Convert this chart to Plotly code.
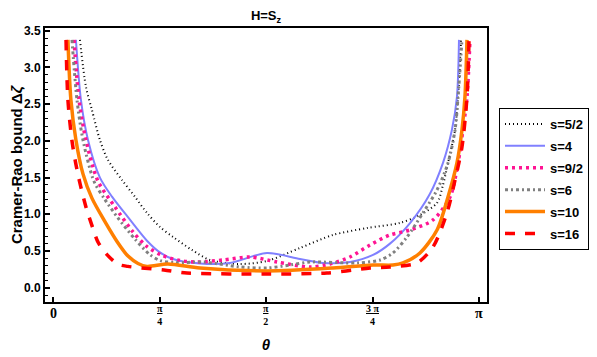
import plotly.graph_objects as go
import math

PI = math.pi

# s = 5/2
x_s52 = [0.197,0.241,0.285,0.344,0.403,0.507,0.603,0.691,0.787,0.883,1.023,1.156,1.377,1.576,1.819,2.063,2.314,2.557,2.704,2.830,2.874,2.911,2.963,2.985,3.007]
y_s52 = [3.375,2.734,2.421,2.012,1.740,1.467,1.236,1.018,0.827,0.691,0.514,0.377,0.323,0.364,0.541,0.718,0.813,0.882,0.990,1.154,1.399,1.699,2.149,2.598,3.375]
# s = 4
x_s4 = [0.167,0.204,0.256,0.344,0.433,0.551,0.691,0.787,0.883,1.082,1.303,1.576,1.819,1.989,2.188,2.358,2.483,2.631,2.778,2.874,2.940,2.977,2.992]
y_s4 = [3.375,2.557,2.012,1.500,1.240,0.960,0.640,0.480,0.390,0.330,0.337,0.473,0.391,0.337,0.350,0.446,0.600,0.880,1.280,1.700,2.150,2.600,3.375]
# s = 9/2
x_s92 = [0.153,0.190,0.241,0.330,0.455,0.588,0.691,0.802,0.934,1.060,1.252,1.451,1.650,1.893,2.041,2.188,2.336,2.483,2.631,2.800,2.926,2.985,3.021,3.051,3.073]
y_s92 = [3.375,2.557,2.012,1.450,1.100,0.760,0.560,0.440,0.370,0.350,0.377,0.418,0.350,0.282,0.323,0.418,0.582,0.718,0.786,0.922,1.236,1.699,2.149,2.598,3.375]
# s = 6
x_s6 = [0.138,0.175,0.219,0.300,0.381,0.477,0.603,0.713,0.787,0.900,1.104,1.377,1.576,1.746,1.893,2.240,2.410,2.505,2.609,2.726,2.830,2.911,2.963,2.985,3.014]
y_s6 = [3.375,2.557,2.012,1.450,1.200,0.950,0.660,0.450,0.370,0.340,0.350,0.282,0.268,0.309,0.350,0.337,0.377,0.473,0.691,1.018,1.331,1.699,2.149,2.598,3.375]
# s = 10
x_s10 = [0.108,0.130,0.167,0.219,0.285,0.381,0.470,0.551,0.625,0.691,0.846,1.082,1.576,2.063,2.358,2.505,2.579,2.704,2.830,2.911,2.977,3.014,3.036,3.051]
y_s10 = [3.375,2.557,2.012,1.550,1.220,0.900,0.630,0.430,0.330,0.290,0.323,0.268,0.228,0.268,0.309,0.309,0.337,0.473,0.786,1.236,1.699,2.149,2.598,3.375]
# s = 16
x_s16 = [0.094,0.108,0.138,0.167,0.197,0.241,0.290,0.330,0.396,0.477,0.550,0.647,0.816,0.986,1.576,2.018,2.336,2.483,2.682,2.800,2.903,2.963,3.014,3.051,3.066]
y_s16 = [3.375,2.557,2.000,1.680,1.420,1.100,0.820,0.620,0.450,0.320,0.290,0.270,0.241,0.200,0.187,0.200,0.268,0.282,0.337,0.554,1.018,1.467,1.917,2.598,3.375]

series_names = ["s=5/2", "s=4", "s=9/2", "s=6", "s=10", "s=16"]
x_tick_vals = [0, PI/4, PI/2, 3*PI/4, PI]
x_tick_text = ["0", "<u>π</u><br>4", "<u>π</u><br>2", "<u>3 π</u><br>4", "π"]
y_tick_vals = [0, 0.5, 1.0, 1.5, 2.0, 2.5, 3.0, 3.5]
y_tick_text = ["<b>%.1f</b>" % v for v in y_tick_vals]

styles = [
    dict(color="black", width=2, dash="1px,3px"),
    dict(color="rgb(128,128,255)", width=2, dash="solid"),
    dict(color="rgb(255,20,147)", width=3.5, dash="3px,4px"),
    dict(color="rgb(128,128,128)", width=3, dash="3px,3px,2px,3px"),
    dict(color="rgb(255,127,0)", width=3.5, dash="solid"),
    dict(color="rgb(255,0,0)", width=3.5, dash="10px,10px"),
]

data = [(x_s52, y_s52), (x_s4, y_s4), (x_s92, y_s92), (x_s6, y_s6), (x_s10, y_s10), (x_s16, y_s16)]

fig = go.Figure()
for i, ((xs, ys), name) in enumerate(zip(data, series_names)):
    fig.add_trace(go.Scatter(
        x=xs, y=ys, mode="lines", name="<b>%s</b>" % name, legendgroup=name,
        line=dict(shape="spline", smoothing=0.8, **styles[i]),
    ))

# page has an 8px body margin, so the figure is sized/placed to compensate
W, H = 589, 349
PH = 274  # plot height in px

# x tick labels (fractions of pi) drawn at the axis tick positions
for v, t in zip(x_tick_vals, x_tick_text):
    if "<br>" in t:
        fig.add_annotation(x=v, xref="x", y=0.0, yref="paper", yanchor="top",
                           text="<b>%s</b>" % t, showarrow=False, borderpad=0,
                           font=dict(family="Liberation Serif", size=10, color="black"))
    else:
        fig.add_annotation(x=v, xref="x", y=-11 / PH, yref="paper", yanchor="middle",
                           text="<b>%s</b>" % t, showarrow=False, borderpad=0,
                           font=dict(family="Liberation Serif", size=14, color="black"))

fig.update_layout(
    width=W, height=H,
    margin=dict(l=37, r=110, t=20, b=55, autoexpand=False),
    paper_bgcolor="white", plot_bgcolor="white",
    font=dict(family="Liberation Sans, Arial", size=12, color="black"),
    title=dict(text="<b>H=S<sub>z</sub></b>", x=0.5, xref="paper", y=1 - 3 / H, yanchor="top",
               pad=dict(t=0, b=0),
               font=dict(size=13, family="Liberation Sans, Arial")),
    legend=dict(
        xref="container", yref="container",
        x=491 / W, xanchor="left", y=1 - 100 / H, yanchor="top",
        bordercolor="black", borderwidth=1, bgcolor="white",
        font=dict(size=13, family="Liberation Sans, Arial"),
        tracegroupgap=2, itemwidth=40,
    ),
    showlegend=True,
)

fig.update_xaxes(
    range=[-0.061, PI + 0.057], automargin=False,
    tickvals=x_tick_vals, showticklabels=False,
    showline=True, linewidth=2, linecolor="black", mirror=True,
    ticks="inside", ticklen=5, tickwidth=1.5, tickcolor="black",
    showgrid=False, zeroline=False,
    title=dict(text="<b><i>θ</i></b>", font=dict(size=15, family="Liberation Sans, Arial"), standoff=36),
)
fig.update_yaxes(
    range=[-0.195, 3.537], automargin=False,
    tickvals=y_tick_vals, ticktext=y_tick_text,
    tickfont=dict(size=12, family="Liberation Sans, Arial"),
    showline=True, linewidth=2, linecolor="black", mirror=True,
    ticks="inside", ticklen=5, tickwidth=1.5, tickcolor="black",
    minor=dict(dtick=0.1, tick0=0, ticks="inside", ticklen=3, tickcolor="black", tickwidth=1),
    showgrid=False, zeroline=False,
    title=dict(text="<b>Cramer-Rao bound Δ<i>ζ</i></b>", font=dict(size=15, family="Liberation Sans, Arial"), standoff=3),
)

fig.write_html("out.html")
